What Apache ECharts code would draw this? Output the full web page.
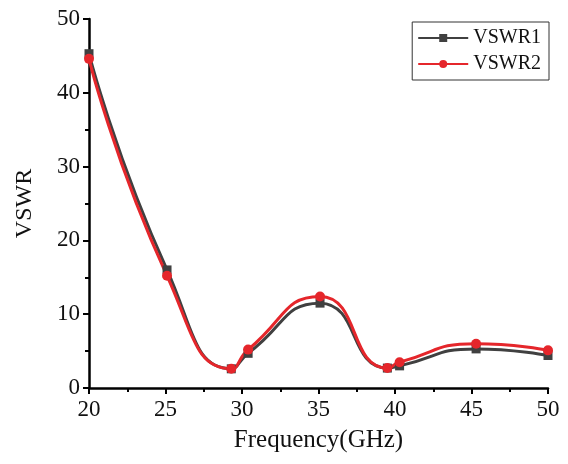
<!DOCTYPE html>
<html>
<head>
<meta charset="utf-8">
<script src="https://cdn.jsdelivr.net/npm/echarts@6/dist/echarts.min.js"></script>
<style>
  html, body { margin: 0; padding: 0; background: #fff; }
  #main { width: 568px; height: 464px; }
</style>
</head>
<body>
<div id="main"></div>
<script>
// frequency points (GHz)
var freq = [20, 25.1, 29.3, 30.4, 35.1, 39.5, 40.3, 45.3, 50];
var vswr1 = [45.3, 16.0, 2.6, 4.7, 11.5, 2.7, 3.0, 5.3, 4.4];
var vswr2 = [44.6, 15.2, 2.6, 5.2, 12.4, 2.7, 3.5, 6.0, 5.1];

function pairs(xs, ys) {
    return xs.map(function (x, i) { return [x, ys[i]]; });
}

var font = 'Liberation Serif';
var chart = echarts.init(document.getElementById('main'));

option = {
    animation: false,
    grid: { left: 89, right: 20, top: 19, bottom: 76 },
    legend: {
        orient: 'vertical',
        right: 19,
        top: 22,
        padding: [6, 8, 6, 5],
        itemGap: 6,
        itemWidth: 50,
        itemHeight: 10,
        borderColor: '#333',
        borderWidth: 1,
        textStyle: { fontFamily: font, fontSize: 20, color: '#111' },
        data: ['VSWR1', 'VSWR2']
    },
    xAxis: {
        type: 'value',
        min: 20, max: 50, interval: 5,
        name: 'Frequency(GHz)',
        nameLocation: 'middle',
        nameGap: 40,
        nameTextStyle: { fontFamily: font, fontSize: 25, color: '#111' },
        axisLine: { lineStyle: { color: '#000', width: 2.5 } },
        axisTick: { length: 6, lineStyle: { width: 2 } },
        minorTick: { show: true, splitNumber: 2, length: 4, lineStyle: { color: '#000', width: 2 } },
        axisLabel: { fontFamily: font, fontSize: 23, color: '#111', margin: 10 },
        splitLine: { show: false }
    },
    yAxis: {
        type: 'value',
        min: 0, max: 50, interval: 10,
        name: 'VSWR',
        nameLocation: 'middle',
        nameGap: 52,
        nameTextStyle: { fontFamily: font, fontSize: 24, color: '#111' },
        axisLine: { show: true, lineStyle: { color: '#000', width: 2.5 } },
        axisTick: { show: true, length: 6, lineStyle: { width: 2 } },
        minorTick: { show: true, splitNumber: 2, length: 4, lineStyle: { color: '#000', width: 2 } },
        axisLabel: { fontFamily: font, fontSize: 23, color: '#111', margin: 9 },
        splitLine: { show: false }
    },
    series: [
        {
            name: 'VSWR1',
            type: 'line',
            smooth: 0.55,
            symbol: 'rect',
            symbolSize: 9,
            color: '#404040',
            lineStyle: { width: 3 },
            data: pairs(freq, vswr1)
        },
        {
            name: 'VSWR2',
            type: 'line',
            smooth: 0.55,
            symbol: 'circle',
            symbolSize: 10,
            color: '#e5262b',
            lineStyle: { width: 3 },
            data: pairs(freq, vswr2)
        }
    ]
};
chart.setOption(option);
</script>
</body>
</html>
